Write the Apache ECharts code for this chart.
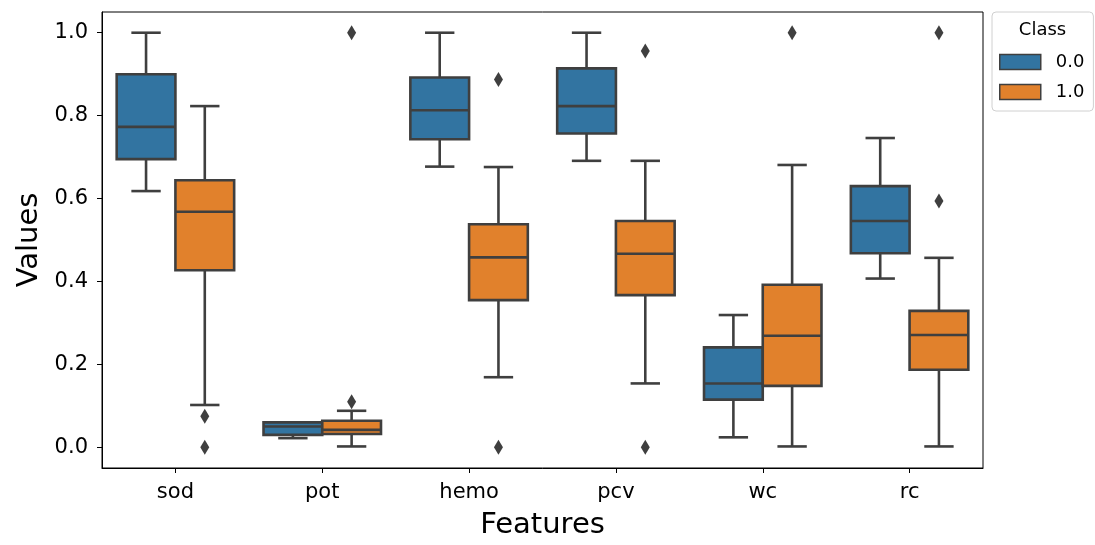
<!DOCTYPE html>
<html><head><meta charset="utf-8">
<script src="https://cdn.jsdelivr.net/npm/echarts@6/dist/echarts.min.js"></script>
<style>html,body{margin:0;padding:0;background:#fff}#c{width:1095px;height:545px}</style>
</head><body><div id="c"></div>
<script>
const categories = ['sod', 'pot', 'hemo', 'pcv', 'wc', 'rc'];
// per category: [lowWhisker, Q1, median, Q3, highWhisker]
const class0Stats = [
  [0.618, 0.695, 0.773, 0.900, 1.000],
  [0.022, 0.030, 0.050, 0.060, 0.060],
  [0.677, 0.743, 0.813, 0.892, 1.000],
  [0.691, 0.757, 0.823, 0.914, 1.000],
  [0.024, 0.115, 0.154, 0.241, 0.319],
  [0.407, 0.468, 0.546, 0.630, 0.746]
];
const class1Stats = [
  [0.102, 0.427, 0.568, 0.644, 0.823],
  [0.002, 0.032, 0.042, 0.064, 0.088],
  [0.169, 0.355, 0.458, 0.538, 0.676],
  [0.154, 0.367, 0.467, 0.546, 0.691],
  [0.002, 0.148, 0.269, 0.392, 0.681],
  [0.002, 0.187, 0.271, 0.329, 0.457]
];
// [categoryIndex, value]
const class0Outliers = [];
const class1Outliers = [[0, 0.075], [0, 0.0], [1, 0.110], [1, 1.0], [2, 0.887], [2, 0.0],
  [3, 0.956], [3, 0.0], [4, 1.0], [5, 1.0], [5, 0.594]];
const yTicks = [0, 0.2, 0.4, 0.6, 0.8, 1.0];
const classNames = ['0.0', '1.0'];

const BLUE = '#3274a1', ORANGE = '#e1812c', LINE = '#3f3f3f';
const FONT = 'DejaVu Sans';

function makeBox(shift, color) {
  return function (params, api) {
    const ci = api.value(0);
    const band = api.size([1, 0])[0];
    const bw = band * 0.4;
    const cx = api.coord([ci, 0])[0] + shift * band * 0.2;
    const y = v => api.coord([ci, v])[1];
    const lo = y(api.value(1)), q1 = y(api.value(2)), md = y(api.value(3)),
          q3 = y(api.value(4)), hi = y(api.value(5));
    const cap = bw / 2;
    const st = { stroke: LINE, lineWidth: 2.6, fill: null };
    return { type: 'group', children: [
      { type: 'line', shape: { x1: cx, y1: q3, x2: cx, y2: hi }, style: st },
      { type: 'line', shape: { x1: cx, y1: q1, x2: cx, y2: lo }, style: st },
      { type: 'line', shape: { x1: cx - cap / 2, y1: hi, x2: cx + cap / 2, y2: hi }, style: st },
      { type: 'line', shape: { x1: cx - cap / 2, y1: lo, x2: cx + cap / 2, y2: lo }, style: st },
      { type: 'rect', shape: { x: cx - bw / 2, y: q3, width: bw, height: q1 - q3 },
        style: { fill: color, stroke: LINE, lineWidth: 2.6 } },
      { type: 'line', shape: { x1: cx - bw / 2, y1: md, x2: cx + bw / 2, y2: md }, style: st }
    ]};
  };
}
function makeOut(shift) {
  return function (params, api) {
    const ci = api.value(0);
    const band = api.size([1, 0])[0];
    const p = api.coord([ci, api.value(1)]);
    const cx = p[0] + shift * band * 0.2, cy = p[1];
    const hw = 4.5, hh = 7.5;
    return { type: 'polygon', shape: { points: [[cx, cy - hh], [cx + hw, cy], [cx, cy + hh], [cx - hw, cy]] },
      style: { fill: LINE, stroke: null } };
  };
}
const boxData = s => s.map((r, i) => [i].concat(r));

const chart = echarts.init(document.getElementById('c'), null, { renderer: 'canvas' });
chart.setOption({
  animation: false,
  backgroundColor: '#fff',
  grid: { left: 102, right: 112, top: 12, bottom: 75, show: true, borderColor: '#000', borderWidth: 1, backgroundColor: 'transparent' },
  legend: {
    orient: 'vertical', left: 992, top: 12,
    data: [{ name: classNames[0], icon: 'rect' }, { name: classNames[1], icon: 'rect' }],
    itemWidth: 41, itemHeight: 15, itemGap: 12,
    padding: [41, 9, 10, 7],
    borderColor: '#d0d0d0', borderWidth: 1, borderRadius: 4,
    itemStyle: { borderColor: LINE, borderWidth: 1.5 },
    textStyle: { fontFamily: FONT, fontSize: 18, color: '#000', padding: [0, 0, 0, 10] }
  },
  graphic: [{ type: 'text', x: 1042.5, y: 30.5,
    style: { text: 'Class', fontFamily: FONT, fontSize: 18, fill: '#000', textAlign: 'center', textVerticalAlign: 'middle' } }],
  xAxis: {
    type: 'category', data: categories, boundaryGap: true,
    name: 'Features', nameLocation: 'middle', nameGap: 43,
    nameTextStyle: { fontFamily: FONT, fontSize: 29, color: '#000' },
    axisLine: { show: true, onZero: false, lineStyle: { color: '#000', width: 1 } },
    axisTick: { show: true, alignWithLabel: true, length: 5, lineStyle: { color: '#000' } },
    axisLabel: { fontFamily: FONT, fontSize: 21, color: '#000', margin: 14 },
    splitLine: { show: false }
  },
  yAxis: {
    type: 'value', min: -0.05, max: 1.05,
    name: 'Values', nameLocation: 'middle', nameGap: 54,
    nameTextStyle: { fontFamily: FONT, fontSize: 29, color: '#000' },
    axisLine: { show: true, onZero: false, lineStyle: { color: '#000', width: 1 } },
    axisTick: { show: true, length: 5, customValues: yTicks, lineStyle: { color: '#000' } },
    axisLabel: { fontFamily: FONT, fontSize: 21, color: '#000', margin: 14, customValues: yTicks,
      formatter: v => v.toFixed(1) },
    splitLine: { show: false }
  },
  series: [
    { type: 'custom', name: classNames[0], renderItem: makeBox(-1, BLUE), itemStyle: { color: BLUE },
      encode: { x: 0, y: [1, 2, 3, 4, 5] }, data: boxData(class0Stats) },
    { type: 'custom', name: classNames[1], renderItem: makeBox(1, ORANGE), itemStyle: { color: ORANGE },
      encode: { x: 0, y: [1, 2, 3, 4, 5] }, data: boxData(class1Stats) },
    { type: 'custom', name: 'out0', renderItem: makeOut(-1), encode: { x: 0, y: 1 }, data: class0Outliers },
    { type: 'custom', name: 'out1', renderItem: makeOut(1), encode: { x: 0, y: 1 }, data: class1Outliers }
  ]
});
</script></body></html>
